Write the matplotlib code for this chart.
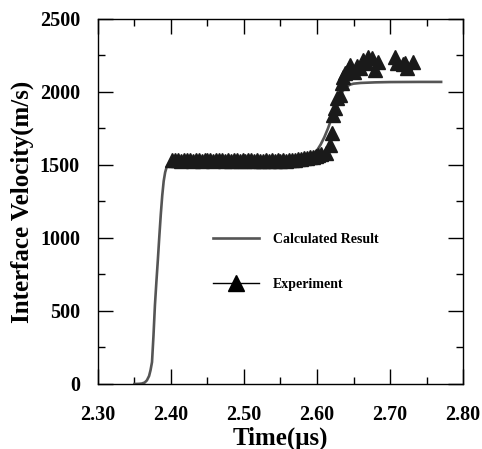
import matplotlib
matplotlib.use("Agg")
import matplotlib.pyplot as plt
from matplotlib.ticker import MultipleLocator, FormatStrFormatter

plt.rcParams['font.family'] = ['Liberation Serif', 'DejaVu Serif']
plt.rcParams['font.weight'] = 'bold'

# calculated result
calc_t = [2.350, 2.356, 2.360, 2.364, 2.367, 2.370, 2.372, 2.374, 2.376, 2.378,
          2.380, 2.382, 2.384, 2.386, 2.388, 2.390, 2.392, 2.394, 2.397, 2.400,
          2.450, 2.500, 2.550, 2.570, 2.580, 2.590, 2.600, 2.605, 2.610, 2.615,
          2.620, 2.625, 2.630, 2.635, 2.640, 2.645, 2.650, 2.660, 2.680, 2.700,
          2.740, 2.770]
calc_v = [0, 1, 3, 10, 25, 55, 95, 150, 330, 540,
          700, 850, 1010, 1160, 1290, 1390, 1450, 1485, 1505, 1512,
          1515, 1515, 1518, 1525, 1535, 1560, 1600, 1640, 1690, 1750,
          1820, 1890, 1955, 2005, 2035, 2050, 2057, 2062, 2066, 2068,
          2069, 2069]

# experiment points
exp_t = [2.402, 2.406, 2.410, 2.414, 2.418, 2.422, 2.426, 2.430, 2.434, 2.438,
         2.442, 2.446, 2.450, 2.454, 2.458, 2.462, 2.466, 2.470, 2.474, 2.478,
         2.482, 2.486, 2.490, 2.494, 2.498, 2.502, 2.506, 2.510, 2.514, 2.518,
         2.522, 2.526, 2.530, 2.534, 2.538, 2.542, 2.546, 2.550, 2.554, 2.558,
         2.562, 2.566, 2.570, 2.574, 2.578, 2.582, 2.586, 2.590, 2.594, 2.598,
         2.602, 2.606, 2.612, 2.618, 2.620, 2.622, 2.625, 2.627, 2.631, 2.634,
         2.636, 2.638, 2.642, 2.645, 2.650, 2.655, 2.659, 2.663, 2.667, 2.670,
         2.675, 2.679, 2.684, 2.707, 2.709, 2.718, 2.721, 2.723, 2.732]
exp_v = [1535, 1532, 1536, 1530, 1534, 1531, 1536, 1529, 1533, 1535,
         1530, 1534, 1532, 1536, 1529, 1533, 1531, 1535, 1530, 1534,
         1528, 1532, 1535, 1530, 1533, 1527, 1531, 1534, 1529, 1532,
         1526, 1530, 1533, 1528, 1531, 1529, 1533, 1530, 1532, 1528,
         1534, 1531, 1535, 1538, 1542, 1545, 1550, 1554, 1558, 1562,
         1566, 1572, 1580, 1637, 1717, 1842, 1888, 1960, 1979, 2060,
         2105, 2128, 2150, 2185, 2140, 2175, 2162, 2219, 2200, 2242,
         2230, 2151, 2208, 2242, 2196, 2190, 2196, 2162, 2208]

fig = plt.figure(figsize=(4.82, 4.49), dpi=100)
ax = fig.add_axes([0.2033, 0.1448, 0.7573, 0.8129])

ax.plot(calc_t, calc_v, c='#555555', lw=1.9, label='Calculated Result', zorder=2)
ax.plot(exp_t, exp_v, ls='none', marker='^', ms=9.5, c='#1a1a1a', zorder=3)
# legend handle for experiment shows a line through the marker
ax.plot([], [], c='black', lw=1, marker='^', ms=11, label='Experiment')

ax.set_xlim(2.30, 2.80)
ax.set_ylim(0, 2500)
ax.xaxis.set_major_locator(MultipleLocator(0.1))
ax.xaxis.set_minor_locator(MultipleLocator(0.05))
ax.yaxis.set_major_locator(MultipleLocator(500))
ax.yaxis.set_minor_locator(MultipleLocator(250))
ax.xaxis.set_major_formatter(FormatStrFormatter('%.2f'))

ax.tick_params(which='both', direction='in', top=True, right=True, labelsize=14.5, width=1)
ax.tick_params(which='major', length=11)
ax.tick_params(which='minor', length=5)
ax.tick_params(axis='x', which='major', pad=15)
ax.tick_params(axis='y', which='major', pad=13)
for s in ax.spines.values():
    s.set_linewidth(1)

ax.set_xlabel('Time(\u03bcs)', fontsize=18, fontweight='bold', labelpad=1)
ax.set_ylabel('Interface Velocity(m/s)', fontsize=18, fontweight='bold', labelpad=4)

ax.legend(loc='upper left', bbox_to_anchor=(0.316, 0.413), frameon=False,
          prop={'size': 10, 'weight': 'bold'}, handlelength=3.3,
          handletextpad=1.0, labelspacing=2.3, borderpad=0, borderaxespad=0)

fig.savefig('out.png', dpi=100)
